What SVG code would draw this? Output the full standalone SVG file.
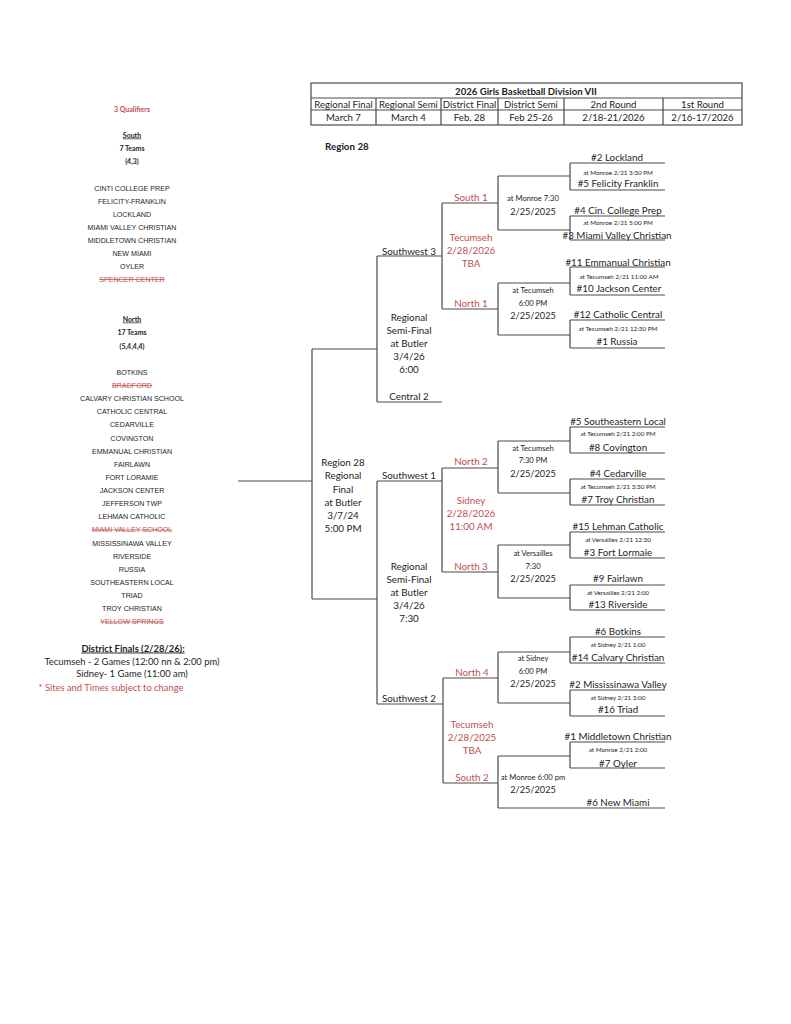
<svg xmlns="http://www.w3.org/2000/svg" width="791" height="1024" viewBox="0 0 791 1024">
<style>
text{font-family:Lato,"Liberation Sans",sans-serif;fill:#1e1e1e;text-anchor:middle}
.t{font-size:9.8px}
.n{font-size:9.4px}
.s{font-size:6.3px}
.m{font-size:7.6px}
.d{font-size:9.2px}
.r{fill:#c0504d}
.b{font-weight:bold}
.u{text-decoration:underline}
.x{text-decoration:line-through}
.l{font-family:"Liberation Sans",Arial,sans-serif;font-size:7.1px}
.h{font-size:9.6px}
.ln{fill:none;stroke:#4a4a4a;stroke-width:1.2}
</style>
<rect width="791" height="1024" fill="#ffffff"/>

<g id="header">
<rect x="311" y="83" width="431" height="42" class="ln"/>
<path class="ln" d="M311,98H742M311,110H742M376,98V125M441,98V125M498,98V125M564,98V125M663,98V125"/>
<text x="526" y="95" class="h b">2026 Girls Basketball Division VII</text>
<text x="343.5" y="107.5" class="h">Regional Final</text>
<text x="408.5" y="107.5" class="h">Regional Semi</text>
<text x="469.5" y="107.5" class="h">District Final</text>
<text x="531" y="107.5" class="h">District Semi</text>
<text x="613.5" y="107.5" class="h">2nd Round</text>
<text x="702.5" y="107.5" class="h">1st Round</text>
<text x="343.5" y="120.5" class="h">March 7</text>
<text x="408.5" y="120.5" class="h">March 4</text>
<text x="469.5" y="120.5" class="h">Feb. 28</text>
<text x="531" y="120.5" class="h">Feb 25-26</text>
<text x="613.5" y="120.5" class="h">2/18-21/2026</text>
<text x="702.5" y="120.5" class="h">2/16-17/2026</text>
</g>

<g id="left-column">
<text x="132" y="111.5" class="b r" style="font-size:7px">3 Qualifiers</text>
<text x="132" y="137.5" class="b u" style="font-size:7px">South</text>
<text x="132" y="150.5" class="b" style="font-size:7px">7 Teams</text>
<text x="132" y="163.5" class="b" style="font-size:7px">(4,3)</text>
<text x="132" y="190.5" class="l">CINTI COLLEGE PREP</text>
<text x="132" y="203.5" class="l">FELICITY-FRANKLIN</text>
<text x="132" y="216.5" class="l">LOCKLAND</text>
<text x="132" y="229.5" class="l">MIAMI VALLEY CHRISTIAN</text>
<text x="132" y="242.5" class="l">MIDDLETOWN CHRISTIAN</text>
<text x="132" y="255.5" class="l">NEW MIAMI</text>
<text x="132" y="268.5" class="l">OYLER</text>
<text x="132" y="281.5" class="l r x">SPENCER CENTER</text>
<text x="132" y="321.5" class="b u" style="font-size:7px">North</text>
<text x="132" y="334.5" class="b" style="font-size:7px">17 Teams</text>
<text x="132" y="348.5" class="b" style="font-size:7px">(5,4,4,4)</text>
<text x="132" y="374.5" class="l">BOTKINS</text>
<text x="132" y="387.5" class="l r x">BRADFORD</text>
<text x="132" y="400.5" class="l">CALVARY CHRISTIAN SCHOOL</text>
<text x="132" y="414" class="l">CATHOLIC CENTRAL</text>
<text x="132" y="427" class="l">CEDARVILLE</text>
<text x="132" y="440.5" class="l">COVINGTON</text>
<text x="132" y="453.5" class="l">EMMANUAL CHRISTIAN</text>
<text x="132" y="466.5" class="l">FAIRLAWN</text>
<text x="132" y="479.5" class="l">FORT LORAMIE</text>
<text x="132" y="492.5" class="l">JACKSON CENTER</text>
<text x="132" y="505.5" class="l">JEFFERSON TWP</text>
<text x="132" y="519" class="l">LEHMAN CATHOLIC</text>
<text x="132" y="532" class="l r x">MIAMI VALLEY SCHOOL</text>
<text x="132" y="545.5" class="l">MISSISSINAWA VALLEY</text>
<text x="132" y="558.5" class="l">RIVERSIDE</text>
<text x="132" y="571.5" class="l">RUSSIA</text>
<text x="132" y="584.5" class="l">SOUTHEASTERN LOCAL</text>
<text x="132" y="597.5" class="l">TRIAD</text>
<text x="132" y="611" class="l">TROY CHRISTIAN</text>
<text x="132" y="624" class="l r x">YELLOW SPRINGS</text>
<text x="133" y="651.5" class="n b u">District Finals (2/28/26):</text>
<text x="132" y="664.5" class="n">Tecumseh - 2 Games (12:00 nn &amp; 2:00 pm)</text>
<text x="132" y="676.5" class="n">Sidney- 1 Game (11:00 am)</text>
<text x="111" y="690.5" class="n r">* Sites and Times subject to change</text>
</g>

<text x="325" y="149.5" class="t b" style="text-anchor:start">Region 28</text>

<g id="connectors">
<path class="ln" d="M238,481H312M312,349V599M312,349H377M312,599H377"/>
<path class="ln" d="M377,256V402M377,256H442M377,402H442"/>
<path class="ln" d="M377,481V704M377,481H442M377,704H443"/>
<path class="ln" d="M442,203V309M442,203H498M442,309H498"/>
<path class="ln" d="M442,468V572M442,468H498M442,572H498"/>
<path class="ln" d="M443,678V783M443,678H498M443,783H498"/>
<path class="ln" d="M498,176V230M498,176H570M498,230H570"/>
<path class="ln" d="M498,283V335M498,283H570M498,335H570"/>
<path class="ln" d="M498,441V493M498,441H570M498,493H570"/>
<path class="ln" d="M498,545V598M498,545H570M498,598H570"/>
<path class="ln" d="M498,652V703M498,652H570M498,703H570"/>
<path class="ln" d="M498,756V808M498,756H570M498,808H665"/>
<path class="ln" d="M570,163V190M570,163H665M570,190H665"/>
<path class="ln" d="M570,216V240M570,216H665M570,240H665"/>
<path class="ln" d="M570,267V295M570,267H665M570,295H665"/>
<path class="ln" d="M570,320V348M570,320H665M570,348H665"/>
<path class="ln" d="M570,427V453M570,427H665M570,453H665"/>
<path class="ln" d="M570,479V505M570,479H665M570,505H665"/>
<path class="ln" d="M570,532V558M570,532H665M570,558H665"/>
<path class="ln" d="M570,585V610M570,585H665M570,610H665"/>
<path class="ln" d="M570,637V663M570,637H665M570,663H665"/>
<path class="ln" d="M570,690V716M570,690H665M570,716H665"/>
<path class="ln" d="M570,742V768M570,742H665M570,768H665"/>
</g>

<g id="regional-final">
<text x="343" y="465.5" class="t">Region 28</text>
<text x="343" y="478.5" class="t">Regional</text>
<text x="343" y="492.5" class="t">Final</text>
<text x="343" y="505.5" class="t">at Butler</text>
<text x="343" y="518.5" class="t">3/7/24</text>
<text x="343" y="531.5" class="t">5:00 PM</text>
</g>

<g id="semi-1">
<text x="409" y="254.5" class="t">Southwest 3</text>
<text x="409" y="320.5" class="t">Regional</text>
<text x="409" y="333.5" class="t">Semi-Final</text>
<text x="409" y="346.5" class="t">at Butler</text>
<text x="409" y="359.5" class="t">3/4/26</text>
<text x="409" y="372.5" class="t">6:00</text>
<text x="409" y="399.5" class="t">Central 2</text>
</g>
<g id="semi-2">
<text x="409" y="478.5" class="t">Southwest 1</text>
<text x="409" y="569.5" class="t">Regional</text>
<text x="409" y="582.5" class="t">Semi-Final</text>
<text x="409" y="595.5" class="t">at Butler</text>
<text x="409" y="609" class="t">3/4/26</text>
<text x="409" y="622" class="t">7:30</text>
<text x="409" y="701.5" class="t">Southwest 2</text>
</g>

<g id="district-final-1">
<text x="471" y="200.5" class="t r">South 1</text>
<text x="471" y="240.5" class="t r">Tecumseh</text>
<text x="471" y="254" class="t r">2/28/2026</text>
<text x="471" y="266.5" class="t r">TBA</text>
<text x="471" y="306.5" class="t r">North 1</text>
</g>
<g id="district-final-2">
<text x="471" y="464.5" class="t r">North 2</text>
<text x="471" y="503.5" class="t r">Sidney</text>
<text x="471" y="516.5" class="t r">2/28/2026</text>
<text x="471" y="530" class="t r">11:00 AM</text>
<text x="471" y="569.5" class="t r">North 3</text>
</g>
<g id="district-final-3">
<text x="472" y="675.5" class="t r">North 4</text>
<text x="472" y="727.5" class="t r">Tecumseh</text>
<text x="472" y="740.5" class="t r">2/28/2025</text>
<text x="472" y="754" class="t r">TBA</text>
<text x="472" y="780.5" class="t r">South 2</text>
</g>

<g id="district-semis">
<text x="533" y="200.5" class="m">at  Monroe 7:30</text>
<text x="533" y="214.5" class="d">2/25/2025</text>
<text x="533" y="292.5" class="m">at  Tecumseh</text>
<text x="533" y="305.5" class="m">6:00 PM</text>
<text x="533" y="318.5" class="d">2/25/2025</text>
<text x="533" y="450.5" class="m">at  Tecumseh</text>
<text x="533" y="462.5" class="m">7:30 PM</text>
<text x="533" y="476.5" class="d">2/25/2025</text>
<text x="533" y="555.5" class="m">at  Versailles</text>
<text x="533" y="568.5" class="m">7:30</text>
<text x="533" y="581.5" class="d">2/25/2025</text>
<text x="533" y="660.5" class="m">at  Sidney</text>
<text x="533" y="673.5" class="m">6:00 PM</text>
<text x="533" y="686.5" class="d">2/25/2025</text>
<text x="533" y="779.5" class="m">at Monroe 6:00 pm</text>
<text x="533" y="792.5" class="d">2/25/2025</text>
</g>

<g id="first-round">
<text x="617" y="160.5" class="t">#2 Lockland</text>
<text x="618" y="175" class="s">at Monroe 2/21  3:30 PM</text>
<text x="618" y="186.5" class="t">#5 Felicity Franklin</text>
<text x="618" y="213.5" class="t">#4 Cin. College Prep</text>
<text x="618" y="225" class="s">at Monroe 2/21  5:00 PM</text>
<text x="617" y="238.5" class="t">#3 Miami Valley Christian</text>
<text x="618" y="265.5" class="t">#11 Emmanual Christian</text>
<text x="619" y="279" class="s">at Tecumseh 2/21  11:00 AM</text>
<text x="619" y="291.5" class="t">#10 Jackson Center</text>
<text x="618" y="317.5" class="t">#12 Catholic Central</text>
<text x="618" y="331" class="s">at Tecumseh 2/21  12:30 PM</text>
<text x="617" y="344.5" class="t">#1 Russia</text>
<text x="618" y="424.5" class="t">#5 Southeastern Local</text>
<text x="618" y="436" class="s">at Tecumseh 2/21  2:00 PM</text>
<text x="618" y="450.5" class="t">#8 Covington</text>
<text x="618" y="476.5" class="t">#4 Cedarville</text>
<text x="618" y="489" class="s">at Tecumseh 2/21  3:30 PM</text>
<text x="618" y="502.5" class="t">#7 Troy Christian</text>
<text x="618" y="529.5" class="t">#15 Lehman Catholic</text>
<text x="618" y="542" class="s">at Versailles 2/21  12:30</text>
<text x="618" y="555.5" class="t">#3 Fort Lormaie</text>
<text x="618" y="581.5" class="t">#9 Fairlawn</text>
<text x="618" y="595" class="s">at Versailles 2/21  2:00</text>
<text x="618" y="607.5" class="t">#13 Riverside</text>
<text x="618" y="634.5" class="t">#6 Botkins</text>
<text x="618" y="647" class="s">at Sidney 2/21  1:00</text>
<text x="618" y="660.5" class="t">#14 Calvary Christian</text>
<text x="618" y="687.5" class="t">#2 Mississinawa Valley</text>
<text x="618" y="700" class="s">at Sidney 2/21  3:00</text>
<text x="618" y="712.5" class="t">#16 Triad</text>
<text x="618" y="739.5" class="t">#1 Middletown Christian</text>
<text x="618" y="752" class="s">at Monroe 2/21  2:00</text>
<text x="618" y="766.5" class="t">#7 Oyler</text>
<text x="618" y="805.5" class="t">#6 New Miami</text>
</g>
</svg>
